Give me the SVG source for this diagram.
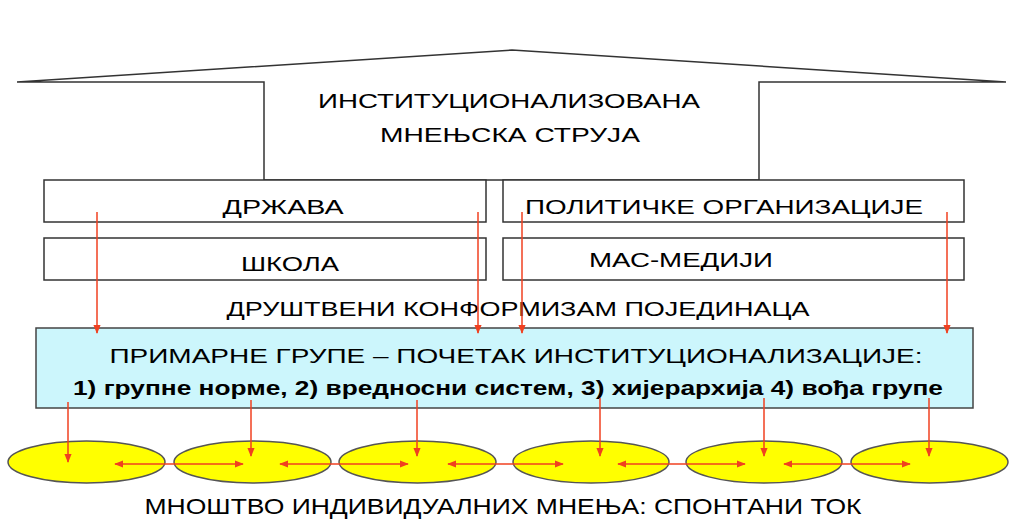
<svg xmlns="http://www.w3.org/2000/svg" width="1024" height="522" viewBox="0 0 1024 522">
<defs>
<style>
text{font-family:"Liberation Sans",Arial,sans-serif;fill:#000;text-anchor:middle}
.box{fill:#fff;stroke:#333;stroke-width:1.5}
.ell{fill:#ffff00;stroke:#555;stroke-width:1.5}
.ar{stroke:#f04020;stroke-width:1.5;fill:none;marker-end:url(#ah)}
</style>
<marker id="ah" viewBox="0 0 10 10" refX="9" refY="5" markerWidth="6" markerHeight="6" orient="auto-start-reverse"><path d="M0,1L10,5L0,9z" fill="#f04020"/></marker>
</defs>
<g id="house">
<path d="M17,82 L512,50 L1006,82 L759,82 L759,180 L264,180 L264,82 Z" fill="#fff" stroke="#333" stroke-width="1.5"/>
<text x="509" y="108" font-size="21" textLength="382" lengthAdjust="spacingAndGlyphs">ИНСТИТУЦИОНАЛИЗОВАНА</text>
<text x="510" y="142" font-size="21" textLength="260" lengthAdjust="spacingAndGlyphs">МНЕЊСКА СТРУЈА</text>
</g>
<g id="drzava"><rect class="box" x="44" y="180" width="442" height="42"/><text x="283" y="214" font-size="20" textLength="121" lengthAdjust="spacingAndGlyphs">ДРЖАВА</text></g>
<g id="polit"><rect class="box" x="503" y="180" width="461" height="42"/><text x="724" y="214" font-size="20" textLength="398" lengthAdjust="spacingAndGlyphs">ПОЛИТИЧКЕ ОРГАНИЗАЦИЈЕ</text></g>
<g id="skola"><rect class="box" x="44" y="238" width="442" height="42"/><text x="290" y="271" font-size="20" textLength="98" lengthAdjust="spacingAndGlyphs">ШКОЛА</text></g>
<g id="mediji"><rect class="box" x="503" y="238" width="461" height="42"/><text x="681" y="267" font-size="20" textLength="184" lengthAdjust="spacingAndGlyphs">МАС-МЕДИЈИ</text></g>
<text x="518" y="316" font-size="21" textLength="583" lengthAdjust="spacingAndGlyphs">ДРУШТВЕНИ КОНФОРМИЗАМ ПОЈЕДИНАЦА</text>
<g id="primarne">
<rect x="36" y="328" width="937" height="80" fill="#ccf6fc" stroke="#444" stroke-width="1.5"/>
<text x="516" y="363" font-size="20" textLength="813" lengthAdjust="spacingAndGlyphs">ПРИМАРНЕ ГРУПЕ – ПОЧЕТАК ИНСТИТУЦИОНАЛИЗАЦИЈЕ:</text>
<text x="508" y="395" font-size="20" font-weight="bold" textLength="870" lengthAdjust="spacingAndGlyphs">1) групне норме, 2) вредносни систем, 3) хијерархија 4) вођа групе</text>
</g>
<g id="e1"><ellipse class="ell" cx="86.500" cy="462" rx="78.500" ry="21"/></g>
<g id="e2"><ellipse class="ell" cx="252.500" cy="462" rx="78.500" ry="21"/></g>
<g id="e3"><ellipse class="ell" cx="417.500" cy="462" rx="78.500" ry="21"/></g>
<g id="e4"><ellipse class="ell" cx="591" cy="462" rx="78" ry="21"/></g>
<g id="e5"><ellipse class="ell" cx="764" cy="462" rx="78" ry="21"/></g>
<g id="e6"><ellipse class="ell" cx="929.500" cy="462" rx="78.500" ry="21"/></g>
<text x="503" y="514" font-size="22" textLength="717" lengthAdjust="spacingAndGlyphs">МНОШТВО ИНДИВИДУАЛНИХ МНЕЊА: СПОНТАНИ ТОК</text>
<g id="connectors">
<line class="ar" x1="97" y1="212" x2="97" y2="333"/>
<line class="ar" x1="478" y1="212" x2="478" y2="333"/>
<line class="ar" x1="522" y1="212" x2="522" y2="333"/>
<line class="ar" x1="947" y1="212" x2="947" y2="333"/>
<line class="ar" x1="68" y1="402" x2="68" y2="462"/>
<line class="ar" x1="251" y1="400" x2="251" y2="456"/>
<line class="ar" x1="417" y1="400" x2="417" y2="456"/>
<line class="ar" x1="600" y1="398" x2="600" y2="456"/>
<line class="ar" x1="764" y1="398" x2="764" y2="456"/>
<line class="ar" x1="929" y1="398" x2="929" y2="456"/>
<line class="ar" x1="115" y1="464" x2="243" y2="464" style="marker-start:url(#ah)"/>
<line class="ar" x1="280" y1="464" x2="408" y2="464" style="marker-start:url(#ah)"/>
<line class="ar" x1="448" y1="464" x2="563" y2="464" style="marker-start:url(#ah)"/>
<line class="ar" x1="618" y1="464" x2="745" y2="464" style="marker-start:url(#ah)"/>
<line class="ar" x1="784" y1="464" x2="910" y2="464" style="marker-start:url(#ah)"/>
</g>
</svg>
